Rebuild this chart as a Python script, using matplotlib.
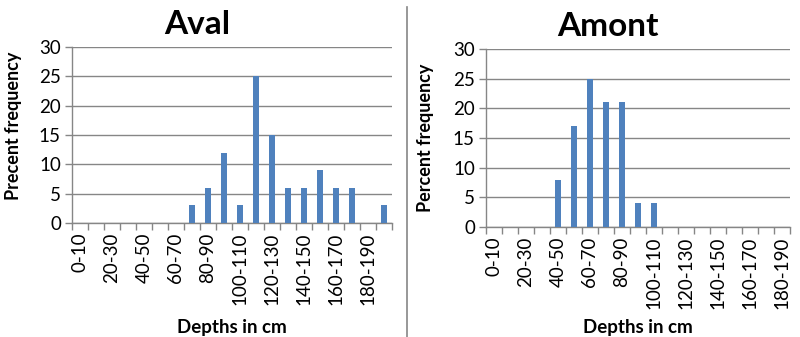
import numpy as np
import matplotlib.pyplot as plt
from matplotlib.lines import Line2D

plt.rcParams['font.family'] = ['Lato', 'DejaVu Sans']

# depth classes (cm)
bins_aval = ['0-10', '10-20', '20-30', '30-40', '40-50', '50-60', '60-70', '70-80',
             '80-90', '90-100', '100-110', '110-120', '120-130', '130-140', '140-150',
             '150-160', '160-170', '170-180', '180-190', '190-200']
bins_amont = bins_aval[:19]

# percent frequency
aval = [0, 0, 0, 0, 0, 0, 0, 3, 6, 12, 3, 25, 15, 6, 6, 9, 6, 6, 0, 3]
amont = [0, 0, 0, 0, 8, 17, 25, 21, 21, 4, 4, 0, 0, 0, 0, 0, 0, 0, 0]

panels = [
    ("Aval", "Precent frequency", bins_aval, aval,
     [72 / 800, 1 - 223 / 337, 320 / 800, 176 / 337], -0.156, 0.55, 0.39),
    ("Amont", "Percent frequency", bins_amont, amont,
     [486 / 800, 1 - 227 / 337, 304 / 800, 178 / 337], -0.171, 0.5, 0.40),
]

bar_col = "#4F81BD"
grid_col = "#868686"

fig = plt.figure(figsize=(8, 3.37), dpi=100)

for title, ylab, cats, vals, pos, ylx, yly, tx in panels:
    ax = fig.add_axes(pos)
    x = np.arange(len(cats))
    ax.bar(x, vals, width=0.42, color=bar_col, zorder=3)

    ax.set_xlim(-0.5, len(cats) - 0.5)
    ax.set_ylim(0, 30)
    ax.set_yticks(np.arange(0, 31, 5))
    ax.yaxis.grid(True, color=grid_col, lw=1, zorder=0)

    # labels on every other class, tick marks on class boundaries
    ax.set_xticks(x[::2])
    ax.set_xticklabels(cats[::2], rotation=90, fontsize=13.5)
    ax.set_xticks(np.arange(len(cats) + 1) - 0.5, minor=True)
    ax.tick_params(axis='x', which='major', length=0, pad=7)
    ax.tick_params(axis='x', which='minor', length=5, color=grid_col, width=1)
    ax.tick_params(axis='y', length=5, color=grid_col, width=1, labelsize=13.5, pad=3)

    for s in ['top', 'right']:
        ax.spines[s].set_visible(False)
    for s in ['left', 'bottom']:
        ax.spines[s].set_color(grid_col)
        ax.spines[s].set_linewidth(1)

    ax.set_title(title, fontsize=24, fontweight='bold', x=tx, pad=9)
    ax.set_ylabel(ylab, fontsize=13, fontweight='bold')
    ax.yaxis.set_label_coords(ylx, yly)
    fig.text(pos[0] + pos[2] / 2, 1 - 327 / 337, "Depths in cm",
             fontsize=13.5, fontweight='bold', ha='center', va='center')

# separator between the two charts
fig.add_artist(Line2D([407 / 800, 407 / 800], [0, 1 - 7 / 337], color=grid_col, lw=1.2))

plt.savefig("out.png", dpi=100)
